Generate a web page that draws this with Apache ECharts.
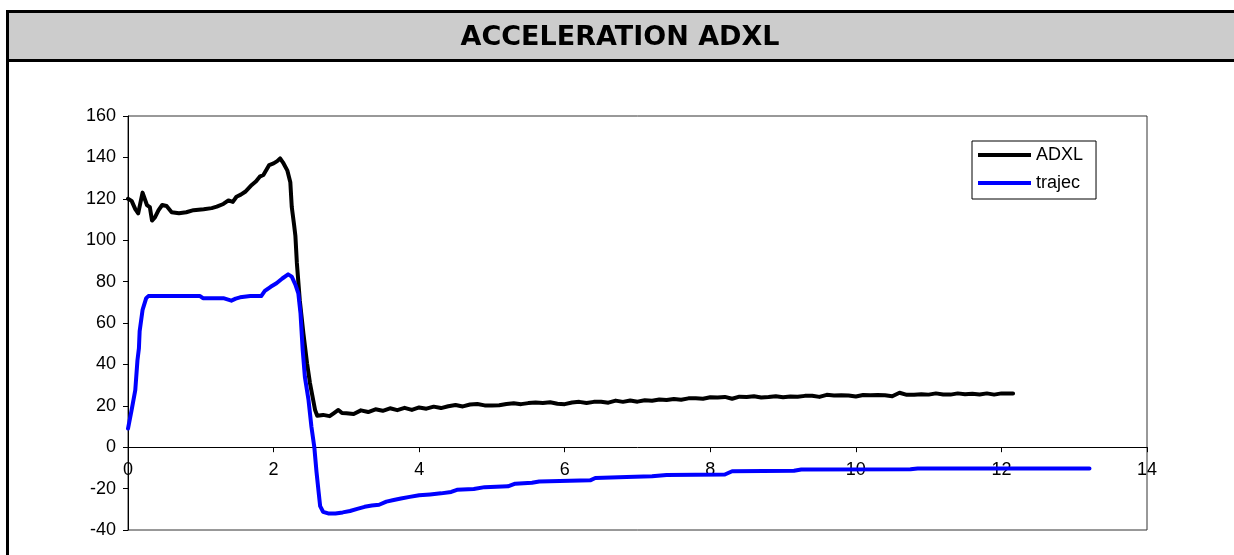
<!DOCTYPE html>
<html>
<head>
<meta charset="utf-8">
<script src="https://cdn.jsdelivr.net/npm/echarts@6/dist/echarts.min.js"></script>
<style>
  html, body { margin: 0; padding: 0; background: #fff; }
  #chart { width: 1234px; height: 555px; }
</style>
</head>
<body>
<div id="chart"></div>
<script>
// ADXL sensor reading (time in s)
var adxlTime = [
  0.00, 0.05, 0.10, 0.14, 0.20, 0.26, 0.30, 0.33, 0.37, 0.42, 0.47, 0.53, 0.60, 0.70, 0.80, 0.90,
  1.04, 1.15, 1.22, 1.31, 1.38, 1.44, 1.49, 1.55, 1.61, 1.70, 1.76, 1.81, 1.86, 1.94, 2.00, 2.05,
  2.09, 2.13, 2.19, 2.23, 2.25, 2.28, 2.30, 2.32, 2.36, 2.41, 2.46, 2.50, 2.57, 2.60, 2.68, 2.77,
  2.83, 2.89, 2.94,
  3.0, 3.1, 3.2, 3.3, 3.4, 3.5, 3.6, 3.7, 3.8, 3.9, 4.0, 4.1, 4.2, 4.3, 4.4, 4.5, 4.6, 4.7, 4.8, 4.9,
  5.0, 5.1, 5.2, 5.3, 5.4, 5.5, 5.6, 5.7, 5.8, 5.9, 6.0, 6.1, 6.2, 6.3, 6.4, 6.5, 6.6, 6.7, 6.8, 6.9,
  7.0, 7.1, 7.2, 7.3, 7.4, 7.5, 7.6, 7.7, 7.8, 7.9, 8.0, 8.1, 8.2, 8.3, 8.4, 8.5, 8.6, 8.7, 8.8, 8.9,
  9.0, 9.1, 9.2, 9.3, 9.4, 9.5, 9.6, 9.7, 9.8, 9.9, 10.0, 10.1, 10.2, 10.3, 10.4, 10.5, 10.6, 10.7,
  10.8, 10.9, 11.0, 11.1, 11.2, 11.3, 11.4, 11.5, 11.6, 11.7, 11.8, 11.9, 12.0, 12.1, 12.16
];
var adxlValues = [
  120, 119, 115, 113, 123, 117, 116, 109.5, 111, 114.5, 117, 116.5, 113.5, 113, 113.5, 114.5,
  115, 115.5, 116.2, 117.5, 119.2, 118.5, 121, 122, 123.4, 126.7, 128.5, 130.7, 131.5, 136.3, 137.1, 138.2,
  139.5, 137.5, 133.6, 128, 116, 108, 102, 89, 71, 55, 40.5, 31, 18, 15.2, 15.6, 15,
  16.5, 18, 16.5,
  16.4, 16.0, 17.8, 17.0, 18.3, 17.6, 18.8, 17.9, 19.0, 18.0, 19.2, 18.6, 19.6, 18.9, 19.8, 20.4, 19.7, 20.6, 20.9, 20.2,
  20.2, 20.3, 20.9, 21.2, 20.8, 21.3, 21.6, 21.4, 21.7, 21.0, 20.8, 21.6, 21.9, 21.4, 21.9, 22.0, 21.5, 22.5, 21.9, 22.6,
  22.0, 22.7, 22.4, 23.0, 22.8, 23.3, 22.9, 23.6, 23.6, 23.4, 24.1, 24.0, 24.3, 23.4, 24.4, 24.3, 24.6, 24.0, 24.2, 24.6,
  24.1, 24.5, 24.4, 24.8, 24.9, 24.3, 25.3, 25.0, 25.1, 25.0, 24.5, 25.2, 25.1, 25.2, 25.1, 24.6, 26.3, 25.3,
  25.3, 25.6, 25.4, 26.0, 25.5, 25.4, 26.0, 25.6, 25.8, 25.5, 26.0, 25.4, 26.0, 26.0, 26.0
];

// Trajectory reference (time in s)
var trajecTime = [
  0.00, 0.05, 0.10, 0.13, 0.15, 0.16, 0.20, 0.25, 0.28, 0.99, 1.03, 1.31, 1.42, 1.48, 1.54, 1.68,
  1.83, 1.88, 1.96, 2.04, 2.12, 2.20, 2.25, 2.30, 2.34, 2.37, 2.40, 2.43, 2.48, 2.52, 2.56, 2.59,
  2.62, 2.64, 2.68, 2.75, 2.85, 2.95, 3.05, 3.15, 3.25, 3.35, 3.45, 3.55, 3.65, 3.75, 3.87, 4.00,
  4.15, 4.30, 4.44, 4.52, 4.75, 4.90, 5.22, 5.32, 5.55, 5.65, 5.93, 6.35, 6.42, 6.85, 7.20, 7.40,
  8.20, 8.30, 9.15, 9.25, 10.75, 10.85, 13.21
];
var trajecValues = [
  9, 18, 27.6, 42, 47.8, 56, 66.3, 72, 73, 73, 72, 72, 70.8, 71.8, 72.4, 73,
  73, 75.5, 77.5, 79.2, 81.5, 83.5, 82.4, 78.5, 74.3, 64.7, 47, 34, 22.8, 9.9, 0, -12,
  -22, -28.5, -31.2, -32, -32, -31.5, -30.8, -29.8, -28.8, -28.2, -27.8, -26.3, -25.5, -24.8, -24, -23.2,
  -22.8, -22.3, -21.6, -20.6, -20.2, -19.3, -18.9, -17.6, -17.2, -16.6, -16.3, -16.0, -14.9, -14.4, -14.0, -13.4,
  -13.2, -11.6, -11.4, -10.8, -10.7, -10.3, -10.3
];

// Axis ranges
var xTicks = { min: 0, max: 14, step: 2 };
var yTicks = { min: -40, max: 160, step: 20 };

var chartTitle = 'ACCELERATION ADXL';
var seriesNames = ['ADXL', 'trajec'];

function pairs(xs, ys) {
  return xs.map(function (x, i) { return [x, ys[i]]; });
}

// plot box
var plot = { left: 128, top: 116, width: 1019, height: 414 };
// lift the x axis from the bottom edge up to y = 0
var xAxisOffset = -plot.height * (0 - yTicks.min) / (yTicks.max - yTicks.min);

var chart = echarts.init(document.getElementById('chart'), null, { renderer: 'canvas' });

var labelFont = { fontFamily: 'Liberation Sans, Arial, sans-serif', fontSize: 18, color: '#000' };

chart.setOption({
  animation: false,
  backgroundColor: '#fff',
  graphic: [
    // title band with its frame
    { type: 'rect', shape: { x: 9, y: 13, width: 1225, height: 46 }, style: { fill: '#cccccc' }, silent: true },
    { type: 'rect', shape: { x: 6, y: 10, width: 1228, height: 3 }, style: { fill: '#000' }, silent: true },
    { type: 'rect', shape: { x: 6, y: 59, width: 1228, height: 3 }, style: { fill: '#000' }, silent: true },
    { type: 'rect', shape: { x: 6, y: 10, width: 3, height: 545 }, style: { fill: '#000' }, silent: true },
    {
      type: 'text', x: 620, y: 38, silent: true,
      style: {
        text: chartTitle, fill: '#000', align: 'center', verticalAlign: 'middle',
        font: 'bold 27px "DejaVu Sans", Verdana, sans-serif'
      }
    }
  ],
  grid: {
    left: plot.left, top: plot.top, width: plot.width, height: plot.height,
    outerBoundsMode: 'none',
    containLabel: false,
    show: true, borderColor: '#333', borderWidth: 1, backgroundColor: 'transparent'
  },
  legend: {
    orient: 'vertical',
    left: 972, top: 141,
    padding: [5, 13, 7, 6],
    itemGap: 10,
    itemWidth: 53, itemHeight: 4,
    icon: 'rect',
    borderColor: '#000', borderWidth: 1,
    backgroundColor: '#fff',
    textStyle: labelFont,
    data: seriesNames
  },
  xAxis: {
    type: 'value',
    position: 'bottom',
    offset: xAxisOffset,
    min: xTicks.min, max: xTicks.max, interval: xTicks.step,
    axisLine: { onZero: false, lineStyle: { color: '#000', width: 1 } },
    axisTick: { show: true, length: 5, lineStyle: { color: '#000' } },
    axisLabel: Object.assign({ margin: 14 }, labelFont),
    splitLine: { show: false }
  },
  yAxis: {
    type: 'value',
    min: yTicks.min, max: yTicks.max, interval: yTicks.step,
    axisLine: { show: true, lineStyle: { color: '#000', width: 1 } },
    axisTick: { show: true, length: 5, lineStyle: { color: '#000' } },
    axisLabel: Object.assign({ margin: 12 }, labelFont),
    splitLine: { show: false }
  },
  series: [
    {
      name: seriesNames[0], type: 'line', showSymbol: false, symbol: 'none',
      data: pairs(adxlTime, adxlValues),
      itemStyle: { color: '#000' },
      lineStyle: { color: '#000', width: 4, cap: 'round', join: 'round' },
      z: 3
    },
    {
      name: seriesNames[1], type: 'line', showSymbol: false, symbol: 'none',
      data: pairs(trajecTime, trajecValues),
      itemStyle: { color: '#0000ff' },
      lineStyle: { color: '#0000ff', width: 4, cap: 'round', join: 'round' },
      z: 4
    }
  ]
});
</script>
</body>
</html>
